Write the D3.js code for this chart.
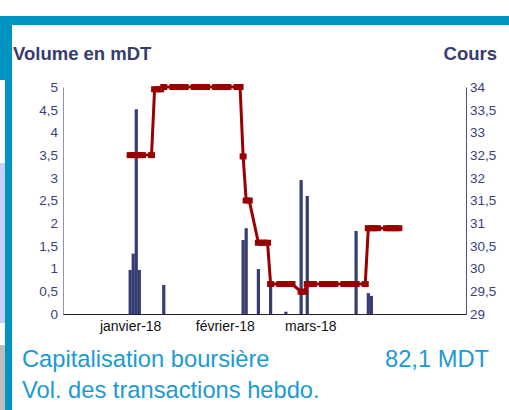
<!DOCTYPE html>
<html>
<head>
<meta charset="utf-8">
<script src="https://cdn.jsdelivr.net/npm/d3@7"></script>
<style>
  body { margin: 0; background: #fff; }
  svg { display: block; font-family: "Liberation Sans", Arial, sans-serif; }
</style>
</head>
<body>
<svg width="509" height="410"></svg>
<script>
// volume (mDT) per trading day
let volDates = ['2018-01-01', '2018-01-02', '2018-01-03', '2018-01-04', '2018-01-12',
  '2018-02-07', '2018-02-08', '2018-02-12', '2018-02-16', '2018-02-21',
  '2018-02-26', '2018-02-28', '2018-03-16', '2018-03-20', '2018-03-21'];
let volValues = [0.97, 1.33, 4.51, 0.97, 0.64,
  1.63, 1.89, 0.99, 0.65, 0.05,
  2.95, 2.6, 1.83, 0.46, 0.40];

// cours (closing price) per trading day
let priceDates = [
  '2018-01-01', '2018-01-02', '2018-01-03', '2018-01-04', '2018-01-05',
  '2018-01-08', '2018-01-09', '2018-01-10', '2018-01-11', '2018-01-12',
  '2018-01-15', '2018-01-16', '2018-01-17', '2018-01-18', '2018-01-19',
  '2018-01-22', '2018-01-23', '2018-01-24', '2018-01-25', '2018-01-26',
  '2018-01-29', '2018-01-30', '2018-01-31', '2018-02-01', '2018-02-02',
  '2018-02-05', '2018-02-06', '2018-02-07', '2018-02-08', '2018-02-09',
  '2018-02-12', '2018-02-13', '2018-02-14', '2018-02-15', '2018-02-16',
  '2018-02-19', '2018-02-20', '2018-02-21', '2018-02-22', '2018-02-23',
  '2018-02-26', '2018-02-27', '2018-02-28', '2018-03-01', '2018-03-02',
  '2018-03-05', '2018-03-06', '2018-03-07', '2018-03-08', '2018-03-09',
  '2018-03-12', '2018-03-13', '2018-03-14', '2018-03-15', '2018-03-16',
  '2018-03-19', '2018-03-20', '2018-03-21', '2018-03-22', '2018-03-23',
  '2018-03-26', '2018-03-27', '2018-03-28', '2018-03-29', '2018-03-30'];
let priceValues = [
  32.5, 32.5, 32.5, 32.5, 32.5,
  32.5, 33.95, 33.95, 33.95, 34,
  34, 34, 34, 34, 34,
  34, 34, 34, 34, 34,
  34, 34, 34, 34, 34,
  34, 34, 32.47, 31.5, 31.5,
  30.57, 30.57, 30.57, 30.57, 29.66,
  29.66, 29.66, 29.66, 29.66, 29.66,
  29.49, 29.49, 29.66, 29.66, 29.66,
  29.66, 29.66, 29.66, 29.66, 29.66,
  29.66, 29.66, 29.66, 29.66, 29.66,
  29.66, 30.89, 30.89, 30.89, 30.89,
  30.89, 30.89, 30.89, 30.89, 30.89];

let monthTicks = ['2018-01-01', '2018-02-01', '2018-03-01'];
let monthLabels = ['janvier-18', 'février-18', 'mars-18'];
let volTicks = [0, 0.5, 1, 1.5, 2, 2.5, 3, 3.5, 4, 4.5, 5];
let priceTicks = [29, 29.5, 30, 30.5, 31, 31.5, 32, 32.5, 33, 33.5, 34];

let capLabel = 'Capitalisation boursière';
let capValue = '82,1 MDT';
let volLabel = 'Vol. des transactions hebdo.';

let parse = d3.timeParse('%Y-%m-%d');
let navy = '#363b70';

let svg = d3.select('svg');

// frame decoration
svg.append('rect').attr('x', 0).attr('y', 16).attr('width', 509).attr('height', 9).attr('fill', '#0094c3');
svg.append('rect').attr('x', 0).attr('y', 16).attr('width', 12).attr('height', 394).attr('fill', '#0094c3');
svg.append('rect').attr('x', 0).attr('y', 80).attr('width', 5).attr('height', 83).attr('fill', '#fff');
svg.append('rect').attr('x', 0).attr('y', 163).attr('width', 5).attr('height', 160).attr('fill', '#c8d1fa');
svg.append('rect').attr('x', 0).attr('y', 323).attr('width', 5).attr('height', 22).attr('fill', '#fff');
svg.append('rect').attr('x', 0).attr('y', 345).attr('width', 5).attr('height', 65).attr('fill', '#bdbdbd');

let m = {left: 63, right: 466, top: 87, bottom: 314};

let x = d3.scaleTime()
    .domain([parse('2017-12-10'), parse('2018-04-21')])
    .range([m.left, m.right]);
let yVol = d3.scaleLinear().domain([0, 5]).range([m.bottom, m.top]);
let yPrice = d3.scaleLinear().domain([29, 34]).range([m.bottom, m.top]);

let comma = (d) => String(d).replace('.', ',');

// titles
svg.append('text')
    .attr('x', 13).attr('y', 60)
    .attr('font-size', 18.5).attr('font-weight', 'bold').attr('fill', navy)
    .text('Volume en mDT');
svg.append('text')
    .attr('x', 497).attr('y', 60).attr('text-anchor', 'end')
    .attr('font-size', 18.5).attr('font-weight', 'bold').attr('fill', navy)
    .text('Cours');

// bars
let bars = volDates.map((d, i) => ({date: parse(d), value: volValues[i]}));
svg.append('g').selectAll('rect')
    .data(bars)
  .enter().append('rect')
    .attr('x', (d) => x(d.date) - 1.6)
    .attr('width', 3.2)
    .attr('y', (d) => yVol(d.value))
    .attr('height', (d) => yVol(0) - yVol(d.value))
    .attr('fill', '#363c74');

// axes
let axisL = svg.append('g')
    .attr('transform', `translate(${m.left},0)`)
    .call(d3.axisLeft(yVol).tickValues(volTicks).tickFormat(comma).tickSize(0).tickPadding(5));
let axisR = svg.append('g')
    .attr('transform', `translate(${m.right},0)`)
    .call(d3.axisRight(yPrice).tickValues(priceTicks).tickFormat(comma).tickSize(0).tickPadding(4));
[axisL, axisR].forEach((a) => {
  a.selectAll('text').attr('font-size', 13.5).attr('fill', '#3b4277').attr('font-family', null);
});
axisL.select('.domain').attr('stroke', '#8e92b6');
axisR.select('.domain').attr('stroke', '#4b5082');

let axisB = svg.append('g')
    .attr('transform', `translate(0,${m.bottom})`)
    .call(d3.axisBottom(x)
      .tickValues(monthTicks.map(parse))
      .tickFormat((d, i) => monthLabels[i])
      .tickSize(0).tickPadding(7));
axisB.select('.domain').attr('stroke', '#222');
axisB.selectAll('text').attr('font-size', 14).attr('fill', '#111').attr('font-family', null);

// price line
let prices = priceDates.map((d, i) => ({date: parse(d), value: priceValues[i]}));
let line = d3.line()
    .x((d) => x(d.date))
    .y((d) => yPrice(d.value));
svg.append('path')
    .datum(prices)
    .attr('d', line)
    .attr('fill', 'none')
    .attr('stroke', '#990000')
    .attr('stroke-width', 3);
svg.append('g').selectAll('rect')
    .data(prices)
  .enter().append('rect')
    .attr('x', (d) => x(d.date) - 3.5)
    .attr('y', (d) => yPrice(d.value) - 3)
    .attr('width', 7)
    .attr('height', 6)
    .attr('fill', '#990000');

// footer
svg.append('text')
    .attr('x', 22).attr('y', 367)
    .attr('font-size', 23.7).attr('fill', '#1b9ad6')
    .text(capLabel);
svg.append('text')
    .attr('x', 489).attr('y', 367).attr('text-anchor', 'end')
    .attr('font-size', 23.7).attr('fill', '#1b9ad6')
    .text(capValue);
svg.append('text')
    .attr('x', 22).attr('y', 398)
    .attr('font-size', 23.7).attr('fill', '#1b9ad6')
    .text(volLabel);
</script>
</body>
</html>
